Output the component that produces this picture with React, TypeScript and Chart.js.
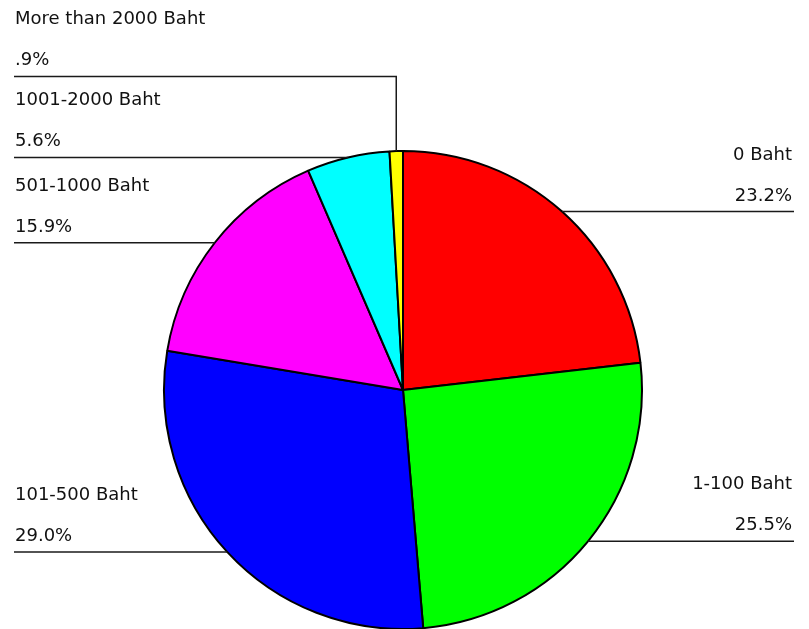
import React, { useEffect, useRef } from "react";
import { Chart, registerables } from "chart.js";

Chart.register(...registerables);

const categories = ["0 Baht", "1-100 Baht", "101-500 Baht", "501-1000 Baht", "1001-2000 Baht", "More than 2000 Baht"];
const percentages = [23.2, 25.5, 29.0, 15.9, 5.6, 0.9];
const colors = ["#FF0000", "#00FF00", "#0000FF", "#FF00FF", "#00FFFF", "#FFFF00"];

const fmtPct = (v: number) => v.toFixed(1).replace(/^0\./, ".") + "%";

const labelPlugin = {
  id: "leaderLabels",
  afterDraw(chart: any) {
    const ctx = chart.ctx;
    const meta = chart.getDatasetMeta(0);
    const W = chart.width;
    const items: any[] = [];
    meta.data.forEach((arc: any, i: number) => {
      const p = arc.getProps(["x", "y", "startAngle", "endAngle", "outerRadius"], true);
      const mid = (p.startAngle + p.endAngle) / 2;
      const px = p.x + p.outerRadius * Math.cos(mid);
      const py = p.y + p.outerRadius * Math.sin(mid);
      items.push({ i, px, py, ly: py, left: px < p.x });
    });
    const gap = 81;
    const left = items.filter((d) => d.left).sort((a, b) => b.py - a.py);
    let prev = Infinity;
    left.forEach((d) => {
      d.ly = Math.min(d.py, prev - gap);
      prev = d.ly;
    });
    const right = items.filter((d) => !d.left).sort((a, b) => a.py - b.py);
    prev = -Infinity;
    right.forEach((d) => {
      d.ly = Math.max(d.py, prev + gap);
      prev = d.ly;
    });
    ctx.save();
    ctx.strokeStyle = "#1a1a1a";
    ctx.lineWidth = 1.5;
    ctx.fillStyle = "#111";
    ctx.font = "18px 'DejaVu Sans', Verdana, sans-serif";
    ctx.textBaseline = "alphabetic";
    items.forEach((d) => {
      const edgeX = d.left ? 14 : W - 15;
      ctx.beginPath();
      ctx.moveTo(d.px, d.py);
      if (Math.abs(d.ly - d.py) > 0.5) ctx.lineTo(d.px, d.ly);
      ctx.lineTo(edgeX, d.ly);
      ctx.stroke();
      ctx.textAlign = d.left ? "left" : "right";
      const tx = d.left ? 15 : W - 17;
      ctx.fillText(categories[d.i], tx, d.ly - 52);
      ctx.fillText(fmtPct(percentages[d.i]), tx, d.ly - 11);
    });
    ctx.restore();
  },
};

export default function App() {
  const ref = useRef<HTMLCanvasElement>(null);
  useEffect(() => {
    document.body.style.margin = "0";
    const chart = new Chart(ref.current!, {
      type: "pie",
      data: {
        labels: categories,
        datasets: [
          {
            data: percentages,
            backgroundColor: colors,
            borderColor: "#000",
            borderWidth: 2,
          },
        ],
      },
      options: {
        responsive: false,
        animation: false,
        radius: 239,
        layout: { padding: { left: 0, right: 3, top: 151, bottom: 0 } },
        plugins: { legend: { display: false }, tooltip: { enabled: false } },
      } as any,
      plugins: [labelPlugin],
    });
    return () => chart.destroy();
  }, []);
  return (
    <div style={{ width: 809, height: 629, background: "#fff" }}>
      <canvas ref={ref} width={809} height={629} />
    </div>
  );
}
